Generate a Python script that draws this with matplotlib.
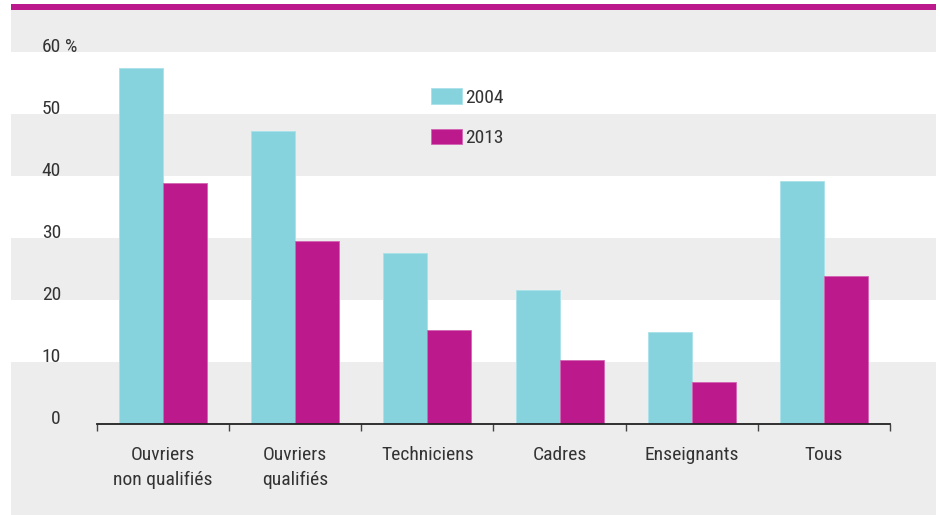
# Частка працівників за категоріями, 2004 vs 2013
import numpy as np
import matplotlib.pyplot as plt
from matplotlib.patches import Rectangle

plt.rcParams['font.family'] = ['Roboto Condensed', 'Barlow Condensed', 'DejaVu Sans']

# 1. Дані
categories = ["Ouvriers\nnon qualifiés", "Ouvriers\nqualifiés", "Techniciens",
              "Cadres", "Enseignants", "Tous"]
values_2004 = [57.4, 47.3, 27.6, 21.6, 14.9, 39.2]
values_2013 = [38.8, 29.5, 15.1, 10.3, 6.8, 23.8]
series_labels = ["2004", "2013"]
y_ticks = [0, 10, 20, 30, 40, 50, 60]

cyan = "#86D3DE"
magenta = "#BC1A8C"
grey = "#EDEDED"
text_col = "#333333"
fs = 14

# 2. Фігура і фон
fig = plt.figure(figsize=(9.4, 5.15), dpi=100, facecolor="white")
fig.add_artist(Rectangle((11 / 940, 0), 925 / 940, 505.5 / 515,
                         transform=fig.transFigure, facecolor=grey,
                         edgecolor="none", zorder=-2))
fig.add_artist(Rectangle((11 / 940, 505.5 / 515), 925 / 940, 5.5 / 515,
                         transform=fig.transFigure, facecolor=magenta,
                         edgecolor="none", zorder=-2))

ax = fig.add_axes([97 / 940, 91 / 515, 793 / 940, 372 / 515])
ax.set_zorder(1)
ax.set_facecolor("none")
ax.set_xlim(-0.5, len(categories) - 0.5)
ax.set_ylim(0, 60)

# білі смуги між поділками
for lo in (10, 30, 50):
    ax.axhspan(lo, lo + 10, xmin=-86 / 793, xmax=839 / 793,
               facecolor="white", edgecolor="none", clip_on=False, zorder=0)

# 3. Стовпчики
x = np.arange(len(categories))
w = 1 / 3
ax.bar(x - w / 2, values_2004, width=w, color=cyan, edgecolor="#a9e2ea",
       linewidth=0.6, label=series_labels[0], zorder=2)
ax.bar(x + w / 2, values_2013, width=w, color=magenta, edgecolor="#d365b3",
       linewidth=0.6, label=series_labels[1], zorder=2)

# 4. Осі
for s in ("top", "right", "left"):
    ax.spines[s].set_visible(False)
ax.spines["bottom"].set_color("#222222")
ax.spines["bottom"].set_linewidth(1.3)
ax.spines["bottom"].set_zorder(3)

ax.set_yticks([])
ax.set_xticks(np.arange(len(categories) + 1) - 0.5)
ax.set_xticklabels([])
ax.tick_params(axis="x", which="major", length=5, width=1, color="#444444")
ax.set_xticks(x, minor=True)
ax.set_xticklabels(categories, minor=True, fontsize=fs, color=text_col,
                   linespacing=1.5)
ax.tick_params(axis="x", which="minor", length=0, pad=15.5)

# підписи осі Y над лініями
trans = ax.get_yaxis_transform()
for t in y_ticks:
    ax.text(-36 / 793, t, str(t), transform=trans, ha="right",
            va="baseline", fontsize=fs, color=text_col)
ax.text(-32 / 793, 60, "%", transform=trans, ha="left", va="baseline",
        fontsize=fs, color=text_col)

# 5. Легенда
ax.legend(loc="upper left", bbox_to_anchor=(334 / 793, 0.903), frameon=False,
          fontsize=fs, handlelength=1.6, handleheight=0.85,
          handletextpad=0.15, labelspacing=1.15, borderpad=0, borderaxespad=0,
          labelcolor=text_col)

fig.savefig("out.png", dpi=100, facecolor="white")
